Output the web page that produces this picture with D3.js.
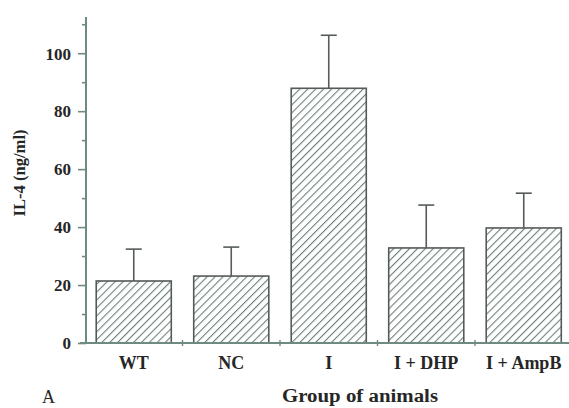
<!DOCTYPE html>
<html>
<head>
<meta charset="utf-8">
<script src="https://cdn.jsdelivr.net/npm/d3@7/dist/d3.min.js"></script>
<style>
  html, body { margin: 0; padding: 0; background: #fff; }
  svg { display: block; }
</style>
</head>
<body>
<svg id="chart" width="569" height="408"></svg>
<script>
// IL-4 levels per animal group (mean and upper SD)
const groups = ["WT", "NC", "I", "I + DHP", "I + AmpB"];
const means  = [21.4, 23.1, 87.9, 32.8, 39.7];
const errors = [11.0, 10.0, 18.3, 14.8, 12.0];
const majorTicks = [0, 20, 40, 60, 80, 100];
const minorTicks = [10, 30, 50, 70, 90, 110];

const FONT = "'Liberation Serif', 'Times New Roman', Times, serif";
const svg = d3.select("#chart");
const axisColor = "#6f8a82";
const barStroke = "#555b59";
const hatchColor = "#6d807a";
const textColor = "#262626";

const y = d3.scaleLinear().domain([0, 112.5]).range([343, 17]);
const x = d3.scaleBand().domain(groups).range([85, 572.5])
  .paddingInner(0.23).paddingOuter(0.115);

// diagonal hatch fill
const defs = svg.append("defs");
const pat = defs.append("pattern")
  .attr("id", "hatch")
  .attr("patternUnits", "userSpaceOnUse")
  .attr("width", 5.6).attr("height", 5.6)
  .attr("patternTransform", "rotate(45)");
pat.append("rect").attr("width", 5.6).attr("height", 5.6).attr("fill", "#fff");
pat.append("line")
  .attr("x1", 0).attr("y1", 0).attr("x2", 0).attr("y2", 5.6)
  .attr("stroke", hatchColor).attr("stroke-width", 2.2);

// bars
svg.append("g").selectAll("rect")
  .data(groups)
  .join("rect")
  .attr("x", d => x(d))
  .attr("y", (d, i) => y(means[i]))
  .attr("width", x.bandwidth())
  .attr("height", (d, i) => y(0) - y(means[i]))
  .attr("fill", "url(#hatch)")
  .attr("stroke", barStroke)
  .attr("stroke-width", 1.6);

// upper error bars
const eb = svg.append("g").attr("stroke", barStroke).attr("stroke-width", 1.6);
groups.forEach((g, i) => {
  const cx = x(g) + x.bandwidth() / 2;
  eb.append("line")
    .attr("x1", cx).attr("x2", cx)
    .attr("y1", y(means[i])).attr("y2", y(means[i] + errors[i]));
  eb.append("line")
    .attr("x1", cx - 8).attr("x2", cx + 8)
    .attr("y1", y(means[i] + errors[i])).attr("y2", y(means[i] + errors[i]));
});

// y axis: major ticks with labels, minor ticks without
const yAxis = svg.append("g").attr("transform", "translate(86,0)")
  .call(d3.axisLeft(y).tickValues(majorTicks).tickSize(8).tickPadding(6));
yAxis.select(".domain").remove();
yAxis.selectAll(".tick line").attr("stroke", axisColor).attr("stroke-width", 1.6);
yAxis.selectAll(".tick text").remove();
yAxis.selectAll(".tick").append("text")
  .attr("x", -15).attr("dy", "0.34em")
  .attr("text-anchor", "end")
  .attr("fill", textColor)
  .style("font-family", FONT)
  .style("font-size", "17px").style("font-weight", "bold")
  .text(d => d);

const yMinor = svg.append("g").attr("transform", "translate(86,0)")
  .call(d3.axisLeft(y).tickValues(minorTicks).tickSize(4).tickFormat(""));
yMinor.select(".domain").remove();
yMinor.selectAll(".tick line").attr("stroke", axisColor).attr("stroke-width", 1.6);

svg.append("line")
  .attr("x1", 86).attr("x2", 86)
  .attr("y1", y(112.5)).attr("y2", y(0) + 1)
  .attr("stroke", axisColor).attr("stroke-width", 2);

// x axis with ticks between groups
svg.append("line")
  .attr("x1", 80).attr("x2", 569)
  .attr("y1", y(0)).attr("y2", y(0))
  .attr("stroke", axisColor).attr("stroke-width", 2.2);
const step = x.step();
const boundaries = d3.range(groups.length).map(i => 85 + i * step).slice(1);
svg.append("g").selectAll("line")
  .data(boundaries)
  .join("line")
  .attr("x1", d => d).attr("x2", d => d)
  .attr("y1", y(0) - 3).attr("y2", y(0) + 3)
  .attr("stroke", axisColor).attr("stroke-width", 1.4);

// category labels
svg.append("g").selectAll("text")
  .data(groups)
  .join("text")
  .attr("x", d => x(d) + x.bandwidth() / 2)
  .attr("y", 369)
  .attr("text-anchor", "middle")
  .attr("fill", textColor)
  .style("font-family", FONT)
  .style("font-size", "18px").style("font-weight", "bold")
  .text(d => d);

// axis titles
svg.append("text")
  .attr("x", 360).attr("y", 402)
  .attr("text-anchor", "middle")
  .attr("fill", textColor)
  .attr("textLength", 156).attr("lengthAdjust", "spacingAndGlyphs")
  .style("font-family", FONT)
  .style("font-size", "18px").style("font-weight", "bold")
  .text("Group of animals");

svg.append("text")
  .attr("transform", "translate(25,173) rotate(-90)")
  .attr("text-anchor", "middle")
  .attr("fill", textColor)
  .attr("textLength", 87).attr("lengthAdjust", "spacingAndGlyphs")
  .style("font-family", FONT)
  .style("font-size", "17px").style("font-weight", "bold")
  .text("IL-4 (ng/ml)");

// panel letter
svg.append("text")
  .attr("x", 42).attr("y", 403)
  .attr("fill", textColor)
  .style("font-family", FONT)
  .style("font-size", "18px")
  .text("A");
</script>
</body>
</html>
